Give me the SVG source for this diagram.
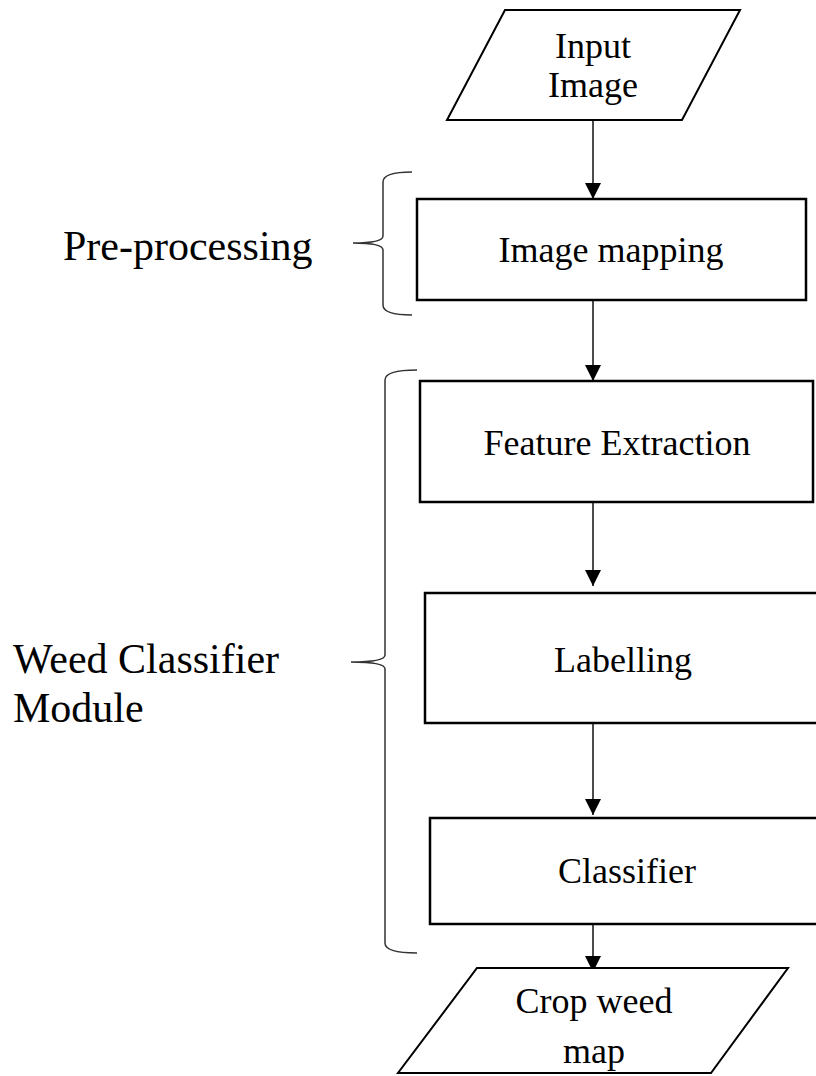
<svg xmlns="http://www.w3.org/2000/svg" width="816" height="1076" viewBox="0 0 816 1076">
<style>
.box{fill:#fff;stroke:#000;stroke-width:2.5}
.io{fill:#fff;stroke:#000;stroke-width:2}
.t{font-family:'Times New Roman','Liberation Serif',Tinos,serif;font-size:36px;fill:#000;text-anchor:middle}
.lbl{font-family:'Times New Roman','Liberation Serif',Tinos,serif;font-size:42px;fill:#000}
.conn{stroke:#000;stroke-width:1.4;fill:none;marker-end:url(#ah)}
.brace{stroke:#333;stroke-width:1.5;fill:none}
</style>
<defs>
<marker id="ah" markerUnits="userSpaceOnUse" markerWidth="16" markerHeight="16" refX="16" refY="8" orient="auto">
<path d="M0,0 L16,8 L0,16 z" fill="#000"/>
</marker>
</defs>
<rect width="816" height="1076" fill="#fff"/>
<g id="connectors">
<line class="conn" x1="593" y1="121" x2="593" y2="199"/>
<line class="conn" x1="593" y1="301" x2="593" y2="381"/>
<line class="conn" x1="593" y1="503" x2="593" y2="586"/>
<line class="conn" x1="593" y1="724" x2="593" y2="815"/>
<line class="conn" x1="593" y1="925" x2="593" y2="972"/>
</g>
<g id="input-image">
<polygon class="io" points="505,10 740,10 682,120 447,120"/>
<text class="t" x="593" y="58">Input</text>
<text class="t" x="593" y="97">Image</text>
</g>
<g id="image-mapping">
<rect class="box" x="417" y="199" width="389" height="101"/>
<text class="t" x="611" y="262">Image mapping</text>
</g>
<g id="feature-extraction">
<rect class="box" x="420" y="381" width="393" height="121"/>
<text class="t" x="617" y="455">Feature Extraction</text>
</g>
<g id="labelling">
<rect class="box" x="425" y="593" width="396" height="130"/>
<text class="t" x="623" y="672">Labelling</text>
</g>
<g id="classifier">
<rect class="box" x="430" y="818" width="395" height="106"/>
<text class="t" x="627" y="883">Classifier</text>
</g>
<g id="crop-weed-map">
<polygon class="io" points="477,968 788,968 711,1073 398,1073"/>
<text class="t" x="594" y="1013">Crop weed</text>
<text class="t" x="594" y="1063">map</text>
</g>
<g id="pre-processing">
<path class="brace" d="M412,172 Q383,172 383,182 L383,236 Q383,243 353,243 Q383,243 383,250 L383,305 Q383,315 412,315"/>
<text class="lbl" x="63" y="260">Pre-processing</text>
</g>
<g id="weed-classifier-module">
<path class="brace" d="M417,370 Q385,370 385,380 L385,655 Q385,662 351,662 Q385,662 385,669 L385,943 Q385,953 417,953"/>
<text class="lbl" x="13" y="673">Weed Classifier</text>
<text class="lbl" x="13" y="722">Module</text>
</g>
</svg>
